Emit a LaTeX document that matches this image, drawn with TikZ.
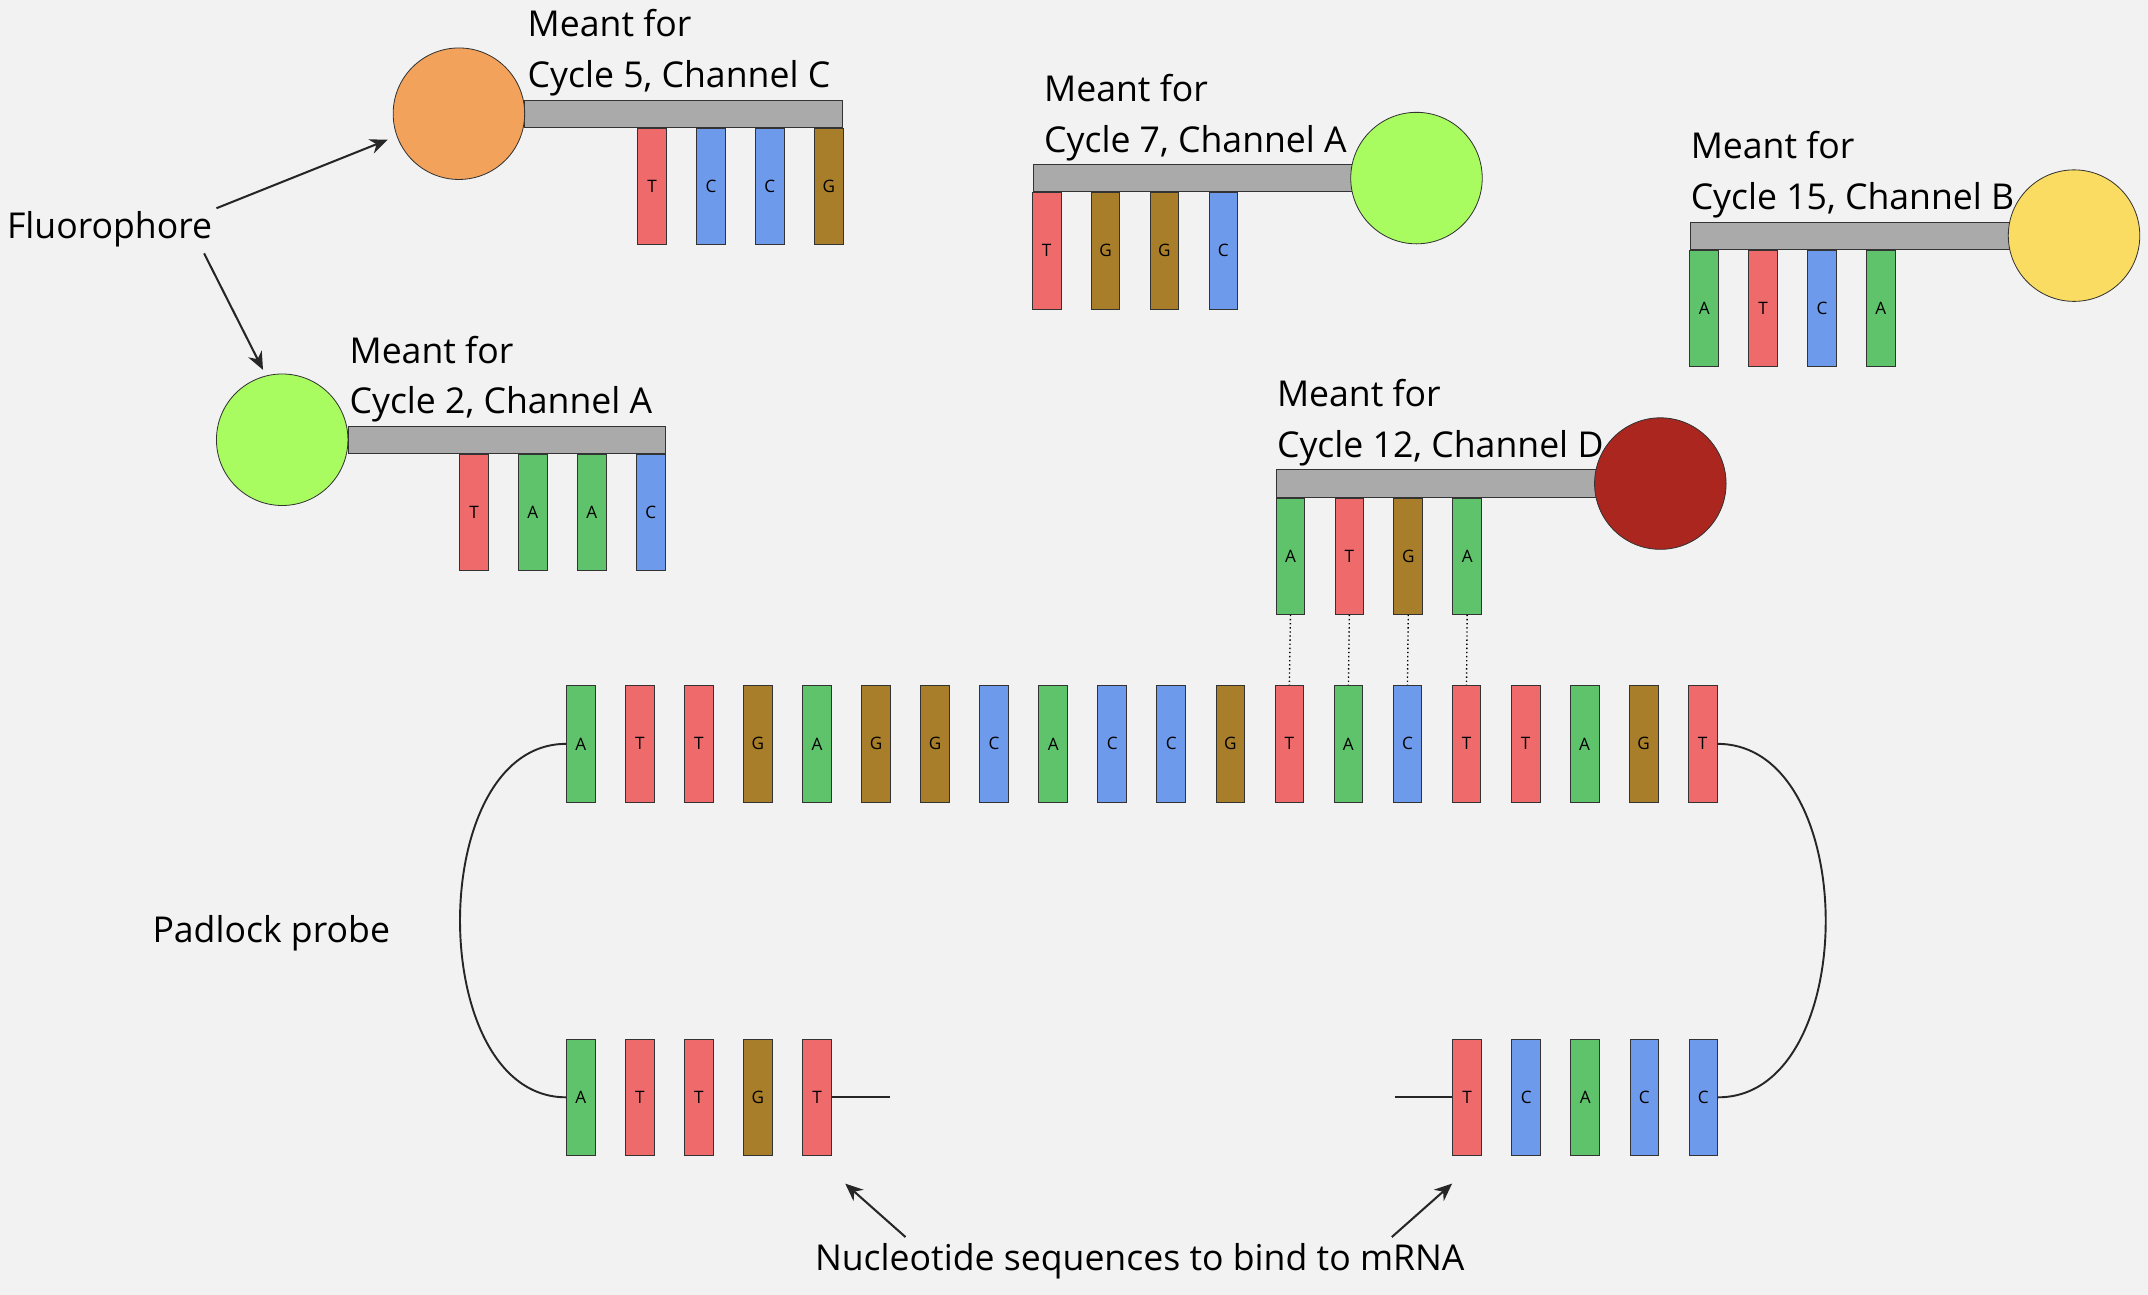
\documentclass[tikz,border=0pt]{standalone}
\usetikzlibrary{arrows.meta}
\usepackage{fontspec}
\setmainfont{Open Sans}
\definecolor{bg}{HTML}{F2F2F2}
\definecolor{cA}{HTML}{5EC36A}
\definecolor{cT}{HTML}{EF6B6B}
\definecolor{cG}{HTML}{A97E2A}
\definecolor{cC}{HTML}{6E9AEB}
\definecolor{gbar}{HTML}{AAAAAA}
\begin{document}
\begin{tikzpicture}[x=1pt,y=-1pt,
  bar/.style={draw=black!80,line width=0.6pt,minimum width=21pt,minimum height=85pt,inner sep=0pt,font=\fontsize{12.5}{14}\selectfont},
  stem/.style={draw=black!80,line width=0.6pt,fill=gbar,minimum height=20pt,inner sep=0pt},
  dye/.style={circle,draw=black!80,line width=0.6pt,minimum size=96pt,inner sep=0pt},
  lbl/.style={anchor=base west,inner sep=0pt,font=\fontsize{26}{30}\selectfont},
  txt/.style={inner sep=0pt,font=\fontsize{26}{30}\selectfont},
  arr/.style={draw=black!85,line width=1.5pt,-{Stealth[length=13pt,width=11pt]}},
  ln/.style={draw=black!85,line width=1.4pt}]
\fill[bg] (0,0) rectangle (1568,945);
\useasboundingbox (0,0) rectangle (1568,945);
% main row
\foreach \l [count=\i] in {A,T,T,G,A,G,G,C,A,C,C,G,T,A,C,T,T,A,G,T}
  \node[bar,fill=c\l] (m\i) at ({424+43.1*(\i-1)},543) {\l};
\foreach \l [count=\i] in {A,T,T,G,T}
  \node[bar,fill=c\l] (bl\i) at ({424+43.1*(\i-1)},801) {\l};
\foreach \l [count=\i] in {T,C,A,C,C}
  \node[bar,fill=c\l] (br\i) at ({1071+43.1*(\i-1)},801) {\l};
\coordinate (le) at (650,801);
\coordinate (re) at (1018,801);
\draw[ln] (bl5.east) -- (le);
\draw[ln] (re) -- (br1.west);
\draw[ln] (m1.west) .. controls (310,543) and (310,801) .. (bl1.west);
\draw[ln] (m20.east) .. controls (1359,543) and (1359,801) .. (br5.east);
% probe 12
\node[stem,minimum width=236pt] (s12) at (1050,353) {};
\node[dye,fill={rgb,255:red,172;green,38;blue,32}] (d12) at (1212,353) {};
\foreach \l [count=\i] in {A,T,G,A}
  \node[bar,fill=c\l] (p12\i) at ({942+43*(\i-1)},406) {\l};
\foreach \i/\j in {1/13,2/14,3/15,4/16}
  \draw[dotted,line width=1pt] (p12\i.south) -- (m\j.north);
\node[lbl] at (932,297) {Meant for};
\node[lbl] at (932,334) {Cycle 12, Channel D};
% probe 5
\node[stem,minimum width=232pt] (s5) at (499,83) {};
\node[dye,fill={rgb,255:red,242;green,162;blue,91}] (d5) at (335,83) {};
\foreach \l [count=\i] in {T,C,C,G}
  \node[bar,fill=c\l] (p5\i) at ({476+43*(\i-1)},136) {\l};
\node[lbl] at (385,27) {Meant for};
\node[lbl] at (385,64) {Cycle 5, Channel C};
% probe 7
\node[stem,minimum width=234pt] (s7) at (871,130) {};
\node[dye,fill={rgb,255:red,168;green,252;blue,96}] (d7) at (1034,130) {};
\foreach \l [count=\i] in {T,G,G,C}
  \node[bar,fill=c\l] (p7\i) at ({764+43*(\i-1)},183) {\l};
\node[lbl] at (762,74) {Meant for};
\node[lbl] at (762,111) {Cycle 7, Channel A};
% probe 15
\node[stem,minimum width=234pt] (s15) at (1351,172) {};
\node[dye,fill={rgb,255:red,250;green,220;blue,98}] (d15) at (1514,172) {};
\foreach \l [count=\i] in {A,T,C,A}
  \node[bar,fill=c\l] (p15\i) at ({1244+43*(\i-1)},225) {\l};
\node[lbl] at (1234,116) {Meant for};
\node[lbl] at (1234,153) {Cycle 15, Channel B};
% probe 2
\node[stem,minimum width=232pt] (s2) at (370,321) {};
\node[dye,fill={rgb,255:red,168;green,252;blue,96}] (d2) at (206,321) {};
\foreach \l [count=\i] in {T,A,A,C}
  \node[bar,fill=c\l] (p2\i) at ({346+43*(\i-1)},374) {\l};
\node[lbl] at (255,265) {Meant for};
\node[lbl] at (255,302) {Cycle 2, Channel A};
% labels
\node[txt] (fl) at (80,167) {Fluorophore};
\coordinate (fa) at (158,152);
\coordinate (fb) at (149,185);
\draw[arr] (fa) -- (283,102);
\draw[arr] (fb) -- (192,270);
\node[txt] (pp) at (198,681) {Padlock probe};
\node[txt] (nu) at (832,921) {Nucleotide sequences to bind to mRNA};
\coordinate (na) at (661,903);
\coordinate (nb) at (1016,903);
\draw[arr] (na) -- (617,864);
\draw[arr] (nb) -- (1060,864);
\end{tikzpicture}
\end{document}
